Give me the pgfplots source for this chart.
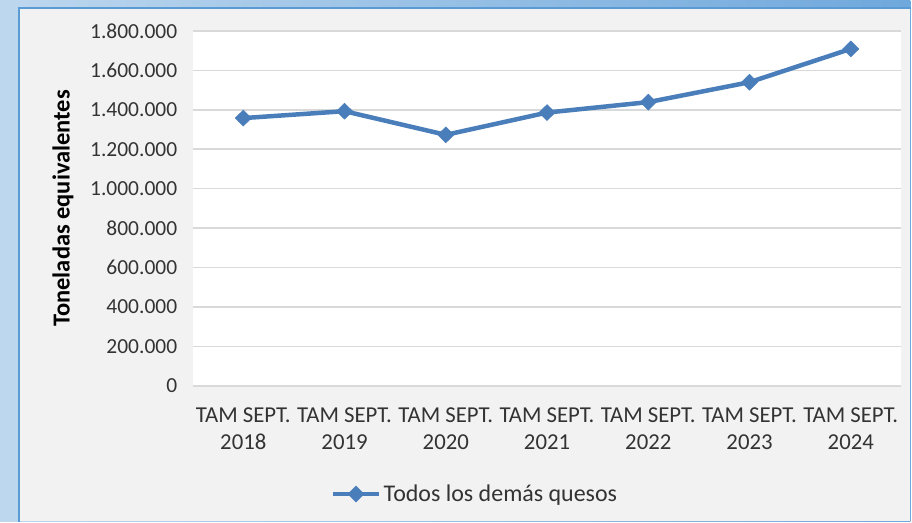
\documentclass[border=0pt]{standalone}
\usepackage{pgfplots}
\pgfplotsset{compat=1.18}
\usepackage{fontspec}
\setmainfont{Carlito}
\definecolor{serie}{HTML}{4A7EBB}
\definecolor{gridc}{HTML}{D9D9D9}
\definecolor{bgc}{HTML}{F2F2F2}
\definecolor{frameL}{HTML}{BDD7EE}
\definecolor{frameR}{HTML}{6FA8DC}
\definecolor{frameLine}{HTML}{5B9BD5}
\begin{document}
\begin{tikzpicture}[x=1pt,y=1pt]
\shade[left color=frameL, right color=frameR] (-193,-135.5) rectangle (719,386.5);
\fill[bgc] (-174,-135.5) rectangle (719,378.5);
\draw[frameLine, line width=1.2pt] (-174,-136) -- (-174,378.5) -- (720,378.5);
\fill[white] (0,0) rectangle (710,355.5);
\begin{axis}[
  at={(0,0)}, anchor=south west,
  scale only axis, width=710pt, height=355.5pt,
  xmin=-0.5, xmax=6.5, ymin=0, ymax=1800000,
  ytick={0,200000,400000,600000,800000,1000000,1200000,1400000,1600000,1800000},
  yticklabels={0,200.000,400.000,600.000,800.000,1.000.000,1.200.000,1.400.000,1.600.000,1.800.000},
  xtick={0,...,6},
  xticklabels={{TAM SEPT.\\2018},{TAM SEPT.\\2019},{TAM SEPT.\\2020},{TAM SEPT.\\2021},{TAM SEPT.\\2022},{TAM SEPT.\\2023},{TAM SEPT.\\2024}},
  x tick label style={align=center, font=\fontsize{22.8}{27}\selectfont, text=black!80, yshift=-18pt},
  y tick label style={font=\fontsize{21.5}{26}\selectfont, text=black!80, xshift=-12pt},
  scaled y ticks=false,
  major tick length=0pt,
  axis line style={draw=none},
  ymajorgrids, grid style={gridc, line width=1.5pt},
  ylabel={\textbf{Toneladas equivalentes}},
  ylabel style={font=\fontsize{24.5}{28}\selectfont, at={(axis description cs:-0.183,0.5)}, anchor=center},
  legend style={at={(axis description cs:0.398,-0.305)}, anchor=center, draw=none, fill=none, font=\fontsize{24}{28}\selectfont, text=black!80, inner sep=0pt, /tikz/every even column/.append style={column sep=0pt}},
  legend cell align=left,
  legend image code/.code={\draw[mark repeat=2,mark phase=2,#1] plot coordinates {(0pt,0pt) (23.5pt,0pt) (47pt,0pt)};},
]
\addplot[serie, line width=4.5pt, mark=diamond*, mark size=8pt, mark options={solid, line width=0.5pt, xscale=1.35}]
coordinates {(0,1358000) (1,1393000) (2,1273000) (3,1386000) (4,1439000) (5,1540000) (6,1709000)};
\addlegendentry{Todos los demás quesos}
\end{axis}
\end{tikzpicture}
\end{document}
